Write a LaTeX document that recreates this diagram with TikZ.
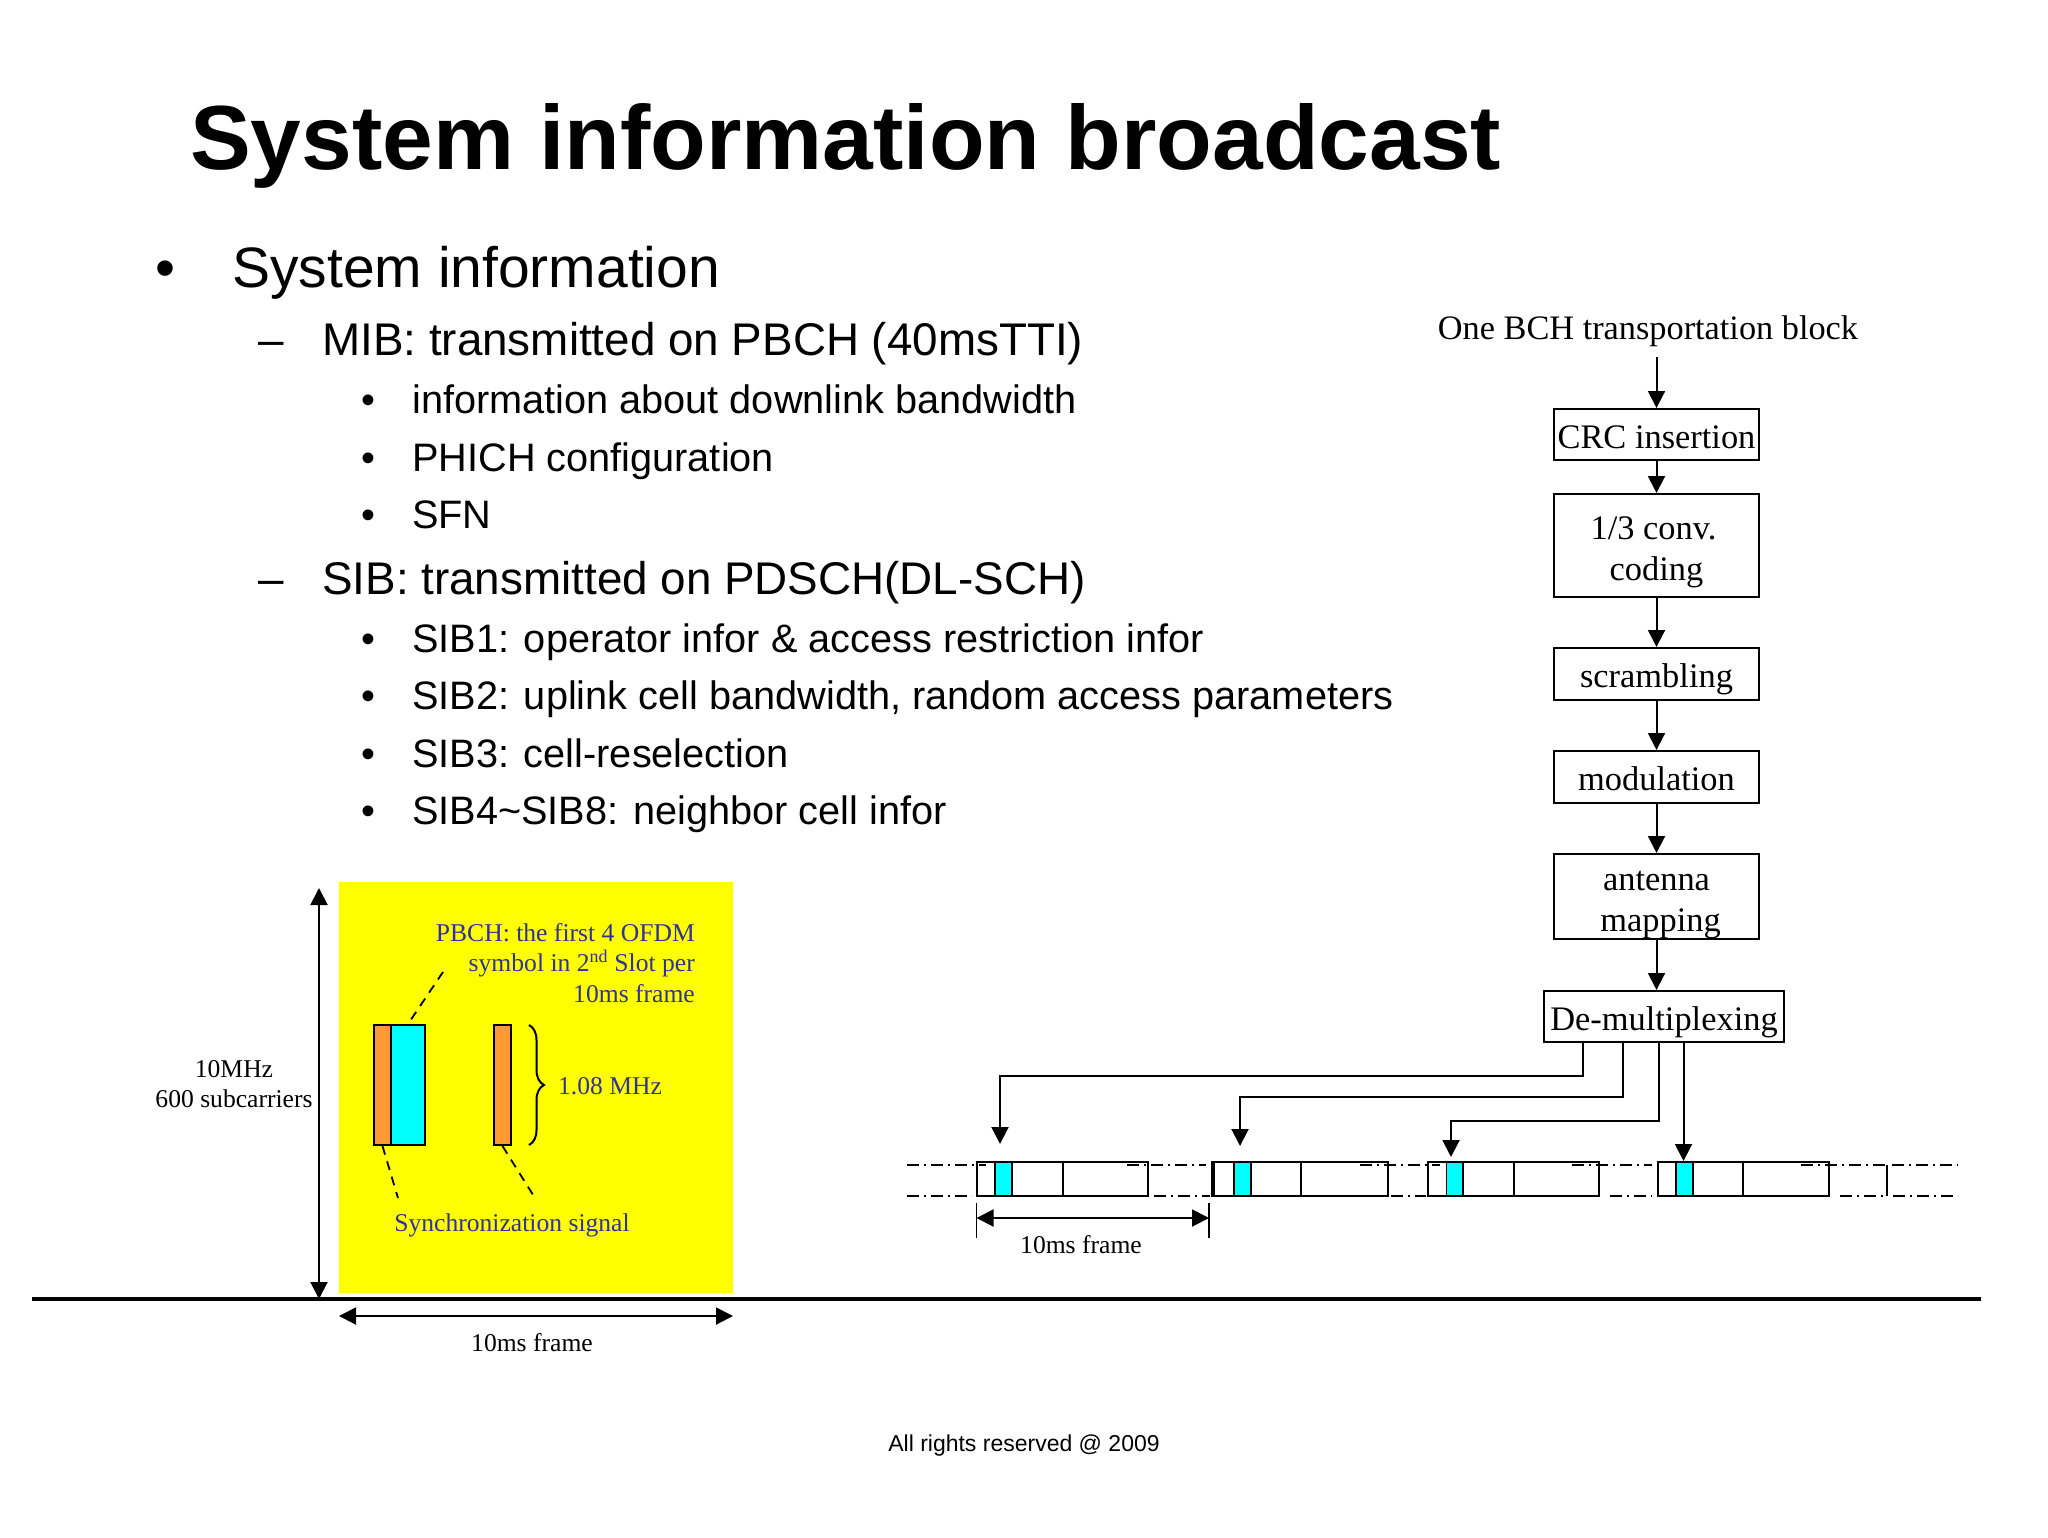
\documentclass[tikz,border=0pt]{standalone}
\usepackage{fontspec}
\setmainfont{Liberation Serif}
\newfontfamily\sansf{Liberation Sans}
\usetikzlibrary{arrows.meta,decorations.pathreplacing}
\definecolor{sigblue}{RGB}{50,50,150}
\definecolor{sigorange}{RGB}{255,153,51}
\definecolor{sigcyan}{RGB}{0,255,255}
\definecolor{sigyellow}{RGB}{255,255,0}
\newcommand{\fs}[1]{\fontsize{#1}{#1}\selectfont}
\tikzset{
  x=1pt,y=-1pt,
  tip/.style={-{Triangle[length=17pt,width=17pt]}},
  tiptwo/.style={{Triangle[length=17pt,width=17pt]}-{Triangle[length=17pt,width=17pt]}},
  blk/.style={draw=black,line width=2pt,fill=white,minimum width=205pt,inner sep=0pt,align=center,font=\fs{34.4},text depth=0pt,text height=27.5pt},
  blktwo/.style={blk,text height=70pt},
  frm/.style={draw=black,line width=2pt,fill=white,minimum height=34pt,inner sep=0pt},
  cyanbar/.style={draw=black,line width=1.5pt,fill=sigcyan,inner sep=0pt,minimum height=33pt},
  ddot/.style={line width=2pt,dash pattern=on 12pt off 5pt on 2pt off 5pt},
  lbl/.style={inner sep=0pt,font=\fs{25.6},align=center},
  sig/.style={inner sep=0pt,font=\fs{25.6},text=sigblue},
  lone/.style={anchor=base west,inner sep=0pt,font=\sansf\fs{57}},
  ltwo/.style={anchor=base west,inner sep=0pt,font=\sansf\fs{45.8}},
  lthree/.style={anchor=base west,inner sep=0pt,font=\sansf\fs{39.7}},
  dashln/.style={line width=1.8pt,dash pattern=on 9pt off 7pt},
  bar/.style={draw=black,line width=2pt,inner sep=0pt,minimum height=120pt},
  chain/.style={tip,line width=2pt}
}
\begin{document}
\begin{tikzpicture}
\useasboundingbox (0,0) rectangle (2048,1537);
\fill[white] (0,0) rectangle (2048,1537);
% title and bullets
\node[anchor=base west,inner sep=0pt,font=\sansf\bfseries\fs{91.1}] (title) at (190,169) {System information broadcast};
\node[lone] (b0) at (155,287) {•};
\node[lone] (t0) at (232,287) {System information};
\node[ltwo] (b1) at (258,355.5) {–};
\node[ltwo] (t1) at (322,355.5) {MIB: transmitted on PBCH (40msTTI)};
\node[lthree] (b2) at (361,413) {•};
\node[lthree] (t2) at (412,413) {information about downlink bandwidth};
\node[lthree] (b3) at (361,471) {•};
\node[lthree] (t3) at (412,471) {PHICH configuration};
\node[lthree] (b4) at (361,528) {•};
\node[lthree] (t4) at (412,528) {SFN};
\node[ltwo] (b5) at (258,594) {–};
\node[ltwo] (t5) at (322,594) {SIB: transmitted on PDSCH(DL-SCH)};
\node[lthree] (b6) at (361,652) {•};
\node[lthree] (t6) at (412,652) {SIB1: operator infor \& access restriction infor};
\node[lthree] (b7) at (361,709) {•};
\node[lthree] (t7) at (412,709) {SIB2: uplink cell bandwidth, random access parameters};
\node[lthree] (b8) at (361,767) {•};
\node[lthree] (t8) at (412,767) {SIB3: cell-reselection};
\node[lthree] (b9) at (361,824) {•};
\node[lthree] (t9) at (412,824) {SIB4\textasciitilde SIB8: neighbor cell infor};
% yellow panel
\fill[sigyellow] (339,882) rectangle (733,1293);
\coordinate (ba) at (32,1299); \coordinate (bb) at (1981,1299);
\draw[line width=3.5pt] (ba) -- (bb);
\coordinate (vt) at (319,888); \coordinate (vb) at (319,1299);
\draw[tiptwo,line width=2pt] (vt) -- (vb);
\coordinate (hl) at (339,1316); \coordinate (hr) at (733,1316);
\draw[tiptwo,line width=2pt] (hl) -- (hr);
\node[lbl] (fr1) at (532,1343) {10ms frame};
\node[lbl] (bw) at (234,1084) {10MHz\\[5pt]600 subcarriers};
\node[bar,fill=sigcyan,minimum width=34pt] (cy) at (408,1085) {};
\node[bar,fill=sigorange,minimum width=17pt] (or1) at (382.5,1085) {};
\node[bar,fill=sigorange,minimum width=17.5pt] (or2) at (502.5,1085) {};
\coordinate (d1) at (443,972); \coordinate (d2) at (398,1198); \coordinate (d3) at (535,1198);
\draw[dashln] (d1) -- (cy.north);
\draw[dashln] (or1.south) -- (d2);
\draw[dashln] (or2.south) -- (d3);
\coordinate (bra) at (529,1025); \coordinate (brb) at (529,1145);
\draw[line width=2pt,decorate,decoration={brace,amplitude=15pt}] (bra) -- (brb);
\node[sig] (mhz) at (610,1086) {1.08 MHz};
\node[sig,anchor=east,align=right] (pb) at (695,963) {PBCH: the first 4 OFDM\\[5pt]symbol in 2\textsuperscript{nd} Slot per\\[5pt]10ms frame};
\node[sig] (sy) at (512,1225.5) {Synchronization signal};
% chain
\node[inner sep=0pt,font=\fs{34.3}] (one) at (1648,331) {One BCH transportation block};
\node[blk,minimum height=51pt] (crc) at (1656.5,434.5) {CRC insertion};
\node[blktwo,minimum height=103pt] (conv) at (1656.5,545.5) {1/3 conv.\hspace*{6pt}\\[7pt]coding};
\node[blk,minimum height=52pt] (scr) at (1656.5,674) {scrambling};
\node[blk,minimum height=52pt] (mod) at (1656.5,777) {modulation};
\node[blktwo,minimum height=85pt] (ant) at (1656.5,896.5) {antenna\\[7pt]\hspace*{8pt}mapping};
\node[blk,minimum width=240pt,minimum height=51pt] (dem) at (1664,1016.5) {De-multiplexing};
\coordinate (cs) at (1656.5,357);
\draw[chain] (cs) -- (crc);
\draw[chain] (crc) -- (conv);
\draw[chain] (conv) -- (scr);
\draw[chain] (scr) -- (mod);
\draw[chain] (mod) -- (ant);
\draw[chain] (ant.south) -- (ant.south |- dem.north);
% frames
\foreach \n/\l/\r/\d/\ca/\cb in {1/976.5/1148/1063/995/1012,2/1213.5/1387.5/1301/1234/1251,3/1428/1599/1514/1446.5/1463,4/1657.5/1829/1742.5/1676/1693}{
  \node[frm,minimum width={(\r-\l)*1pt}] (f\n) at ({(\l+\r)/2},1179) {};
  \node[cyanbar,minimum width={(\cb-\ca)*1pt}] (c\n) at ({(\ca+\cb)/2},1179) {};
  \coordinate (du\n) at (\d,1162); \coordinate (dd\n) at (\d,1196);
  \draw[line width=2pt] (du\n) -- (dd\n);
}
\coordinate (xu) at (1887,1165); \coordinate (xd) at (1887,1196);
\draw[line width=2pt] (xu) -- (xd);
\draw[line width=3.5pt] (f2.north west) -- (f2.south west);
% dash-dot lines
\foreach \a/\b in {907/986,1127/1206,1360/1440,1572/1652,1801/1887,1892/1958}{
  \draw[ddot] (\a,1165) -- (\b,1165);
}
\foreach \a/\b in {907/972,1154/1210,1391/1426,1610/1652,1840/1887,1893/1958}{
  \draw[ddot] (\a,1196) -- (\b,1196);
}
% demux outputs
\coordinate (o1) at (1582.5,1042); \coordinate (m1) at (1000,1076); \coordinate (e1) at (1000,1144);
\coordinate (o2) at (1622.5,1042); \coordinate (m2) at (1240,1097); \coordinate (e2) at (1240,1146);
\coordinate (o3) at (1659,1042);   \coordinate (m3) at (1451,1121); \coordinate (e3) at (1451,1157);
\coordinate (o4) at (1683.5,1042); \coordinate (e4) at (1683.5,1161);
\draw[chain] (o1) |- (m1) -- (e1);
\draw[chain] (o2) |- (m2) -- (e2);
\draw[chain] (o3) |- (m3) -- (e3);
\draw[chain] (o4) -- (e4);
% 10ms arrow
\coordinate (al) at (976.5,1218); \coordinate (ar) at (1209,1218);
\draw[tiptwo,line width=2pt] (al) -- (ar);
\coordinate (tl) at (976.5,1203); \coordinate (tlb) at (976.5,1238);
\coordinate (tr) at (1209,1203); \coordinate (trb) at (1209,1238);
\draw[line width=1.5pt] (tl) -- (tlb);
\draw[line width=1.5pt] (tr) -- (trb);
\node[lbl] (fr2) at (1081,1245) {10ms frame};
\node[inner sep=0pt,font=\sansf\fs{23}] (foot) at (1024,1445.5) {All rights reserved @ 2009};
\end{tikzpicture}
\end{document}
